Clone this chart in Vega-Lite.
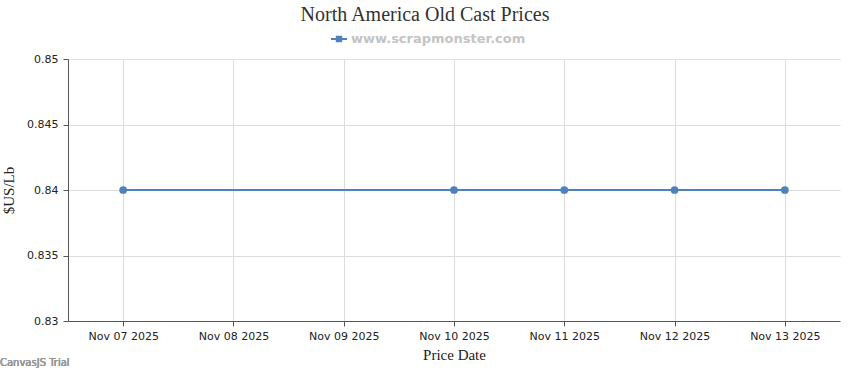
{
  "$schema": "https://vega.github.io/schema/vega-lite/v6.json",
  "width": 772,
  "height": 262,
  "autosize": {"type": "none"},
  "padding": {"left": 68, "top": 59, "right": 10, "bottom": 49},
  "background": "white",
  "title": {
    "text": "North America Old Cast Prices",
    "font": "Liberation Serif",
    "fontSize": 20,
    "fontWeight": "normal",
    "color": "#333333",
    "anchor": "middle",
    "dx": -29,
    "offset": 6
  },
  "data": {
    "values": [
      {"date": "2025-11-07T00:00:00Z", "price": 0.84, "series": "www.scrapmonster.com"},
      {"date": "2025-11-10T00:00:00Z", "price": 0.84, "series": "www.scrapmonster.com"},
      {"date": "2025-11-11T00:00:00Z", "price": 0.84, "series": "www.scrapmonster.com"},
      {"date": "2025-11-12T00:00:00Z", "price": 0.84, "series": "www.scrapmonster.com"},
      {"date": "2025-11-13T00:00:00Z", "price": 0.84, "series": "www.scrapmonster.com"}
    ]
  },
  "config": {
    "view": {"stroke": null},
    "axis": {
      "labelFont": "DejaVu Sans",
      "labelFontSize": 11,
      "labelColor": "#222222",
      "titleFont": "Liberation Serif",
      "titleFontSize": 15,
      "titleFontWeight": "normal",
      "titleColor": "#222222",
      "gridColor": "#dddddd",
      "gridWidth": 1,
      "domainColor": "#555555",
      "tickColor": "#555555",
      "tickSize": 5
    }
  },
  "layer": [
    {
      "mark": {"type": "line", "strokeWidth": 2},
      "encoding": {
        "x": {
          "field": "date",
          "type": "temporal",
          "scale": {
            "type": "utc",
            "domain": [
              {"year": 2025, "month": 11, "date": 6, "hours": 12, "utc": true},
              {"year": 2025, "month": 11, "date": 13, "hours": 12, "utc": true}
            ]
          },
          "axis": {
            "title": "Price Date",
            "labelExpr": "utcFormat(datum.value, '%b %d %Y')",
            "values": [
              {"year": 2025, "month": 11, "date": 7, "utc": true},
              {"year": 2025, "month": 11, "date": 8, "utc": true},
              {"year": 2025, "month": 11, "date": 9, "utc": true},
              {"year": 2025, "month": 11, "date": 10, "utc": true},
              {"year": 2025, "month": 11, "date": 11, "utc": true},
              {"year": 2025, "month": 11, "date": 12, "utc": true},
              {"year": 2025, "month": 11, "date": 13, "utc": true}
            ],
            "labelPadding": 4,
            "titlePadding": 6,
            "labelFlush": false,
            "labelOverlap": false
          }
        },
        "y": {
          "field": "price",
          "type": "quantitative",
          "scale": {"domain": [0.83, 0.85], "nice": false, "zero": false},
          "axis": {
            "title": "$US/Lb",
            "values": [0.83, 0.835, 0.84, 0.845, 0.85],
            "format": ".3~f",
            "labelPadding": 5,
            "titlePadding": 10
          }
        },
        "color": {
          "field": "series",
          "type": "nominal",
          "scale": {"range": ["#4F81BC"]},
          "legend": {
            "title": null,
            "orient": "none",
            "legendX": 263,
            "legendY": -28,
            "symbolType": "M-1,-0.12H1V0.12H-1Z M-0.4,-0.4H0.4V0.4H-0.4Z",
            "symbolSize": 256,
            "symbolFillColor": "#4F81BC",
            "symbolStrokeWidth": 0,
            "labelFont": "DejaVu Sans",
            "labelFontSize": 13,
            "labelFontWeight": "bold",
            "labelColor": "#c4c4c4",
            "labelOffset": 4,
            "labelLimit": 400
          }
        }
      }
    },
    {
      "mark": {"type": "point", "filled": true, "size": 60, "opacity": 1},
      "encoding": {
        "x": {"field": "date", "type": "temporal"},
        "y": {"field": "price", "type": "quantitative"},
        "color": {"field": "series", "type": "nominal"}
      }
    },
    {
      "mark": {"type": "text", "align": "left", "baseline": "middle", "dx": -68, "dy": 42, "fontSize": 10, "font": "DejaVu Sans", "color": "#999999"},
      "encoding": {
        "x": {"datum": {"year": 2025, "month": 11, "date": 6, "hours": 12, "utc": true}, "type": "temporal"},
        "y": {"datum": 0.83, "type": "quantitative"},
        "text": {"value": "CanvasJS Trial"}
      }
    }
  ]
}
